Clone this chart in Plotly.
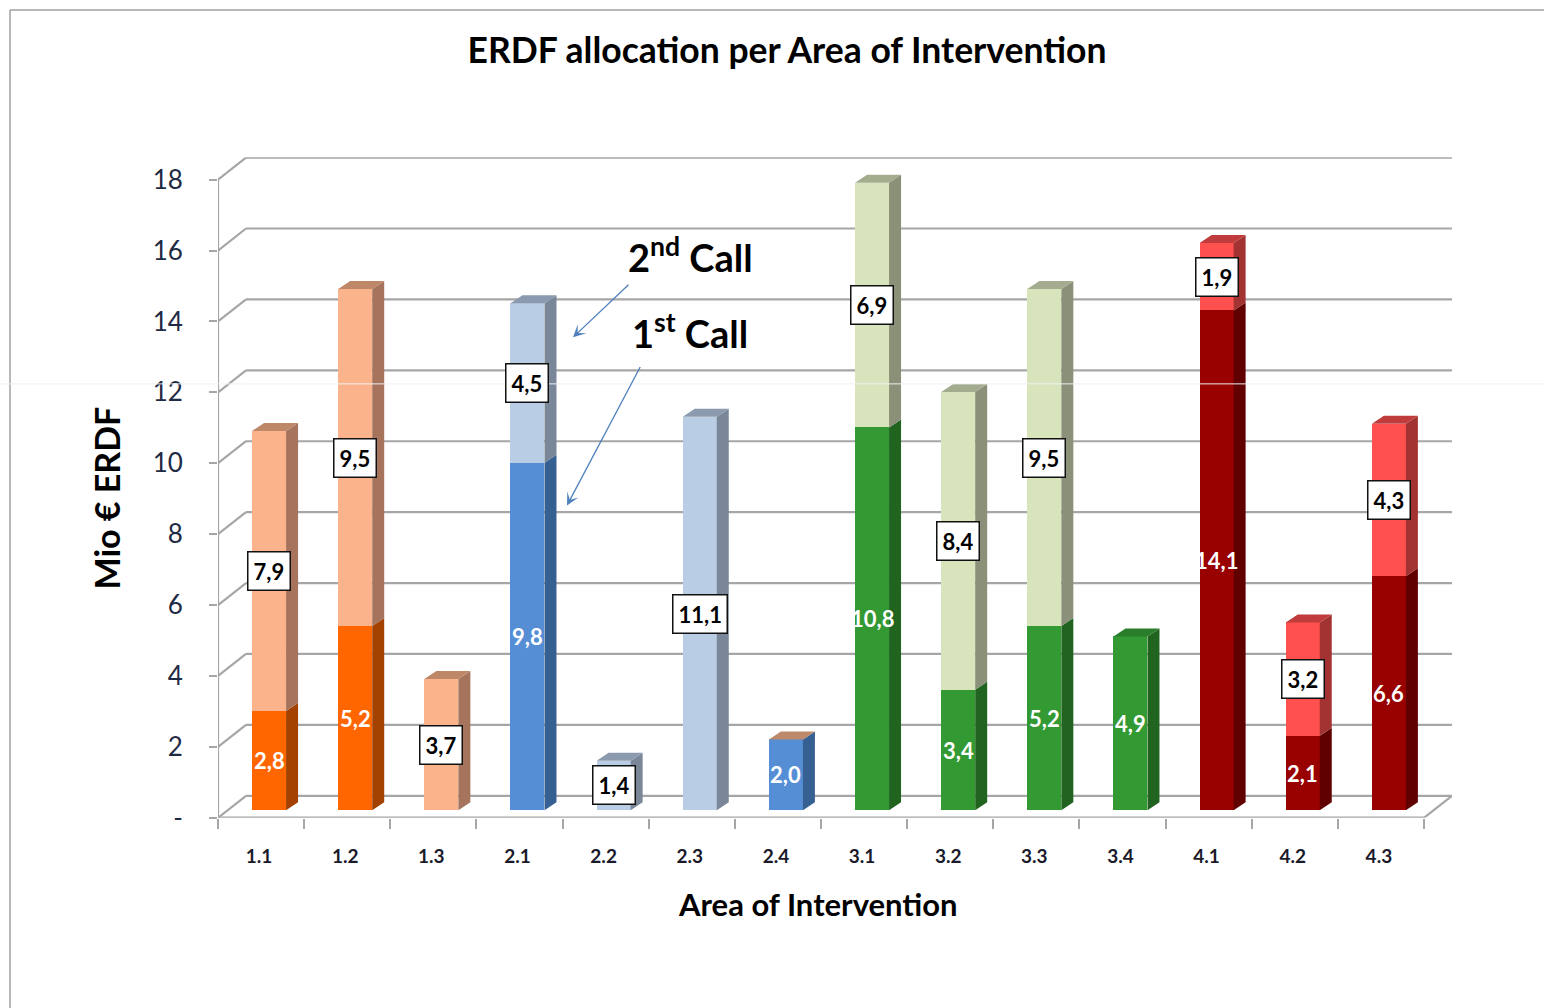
import plotly.graph_objects as go

categories = ["1.1", "1.2", "1.3", "2.1", "2.2", "2.3", "2.4", "3.1", "3.2", "3.3", "3.4", "4.1", "4.2", "4.3"]
first_call = [2.8, 5.2, 0, 9.8, 0, 0, 2.0, 10.8, 3.4, 5.2, 4.9, 14.1, 2.1, 6.6]
second_call = [7.9, 9.5, 3.7, 4.5, 1.4, 11.1, 0, 6.9, 8.4, 9.5, 0, 1.9, 3.2, 4.3]
y_ticks = list(range(0, 20, 2))
y_tick_labels = ["-"] + [str(v) for v in y_ticks[1:]]

W, H = 1544, 1008
LAYOUT_H = 1024             # the page draws the figure 16 px shorter than asked
X0, X1 = 218, 1452          # plot area in page pixels
Y0, Y1 = 817, 157
CAT_PX = 86.14
UNIT_PX = 35.42
BACK = (28 / CAT_PX, 22 / UNIT_PX)      # depth of the floor
BAR_FRONT = (8 / CAT_PX, 7.5 / UNIT_PX)   # where the bar's front stands on the floor
BAR_DEPTH = (12 / CAT_PX, 8 / UNIT_PX)  # depth of a bar
BAR_W = 34 / CAT_PX
GRID = "#a6a6a6"

palette = {
    "1": dict(f="#FF6600", fs="#A34200", ft="#BD5000", s="#FBB38C", ss="#A6745C", st="#BD8768"),
    "2": dict(f="#558ED5", fs="#376092", ft="#BC8A6A", s="#B9CDE5", ss="#7A8799", st="#8B9AAE"),
    "3": dict(f="#339933", fs="#206420", ft="#2A7D2A", s="#D8E4BC", ss="#8A9178", st="#A3AC8F"),
    "4": dict(f="#990000", fs="#600000", ft="#7A0000", s="#FF5050", ss="#A33333", st="#C03C3C"),
}

fig = go.Figure()
xc = [i + 0.5 for i in range(len(categories))]
xbar = [c + BAR_FRONT[0] for c in xc]
colors = [palette[c[0]] for c in categories]


def face(xs, ys, color):
    fig.add_trace(go.Scatter(x=xs, y=ys, mode="lines", fill="toself", fillcolor=color,
                             line=dict(width=0, color=color), hoverinfo="skip", showlegend=False))


# front faces
fig.add_trace(go.Bar(x=xbar, y=first_call, base=[BAR_FRONT[1]] * len(xbar), width=BAR_W,
                     marker=dict(color=[c["f"] for c in colors], line_width=0), name="1st Call", showlegend=False))
fig.add_trace(go.Bar(x=xbar, y=second_call, base=[BAR_FRONT[1] + v for v in first_call], width=BAR_W,
                     marker=dict(color=[c["s"] for c in colors], line_width=0), name="2nd Call", showlegend=False))

# side and top faces, derived from the data
for x, a, b, c in zip(xbar, first_call, second_call, colors):
    r = x + BAR_W / 2
    l = x - BAR_W / 2
    dx, dy = BAR_DEPTH
    base = BAR_FRONT[1]
    if a > 0:
        face([r, r + dx, r + dx, r, r], [base, base + dy, base + a + dy, base + a, base], c["fs"])
    if b > 0:
        face([r, r + dx, r + dx, r, r], [base + a, base + a + dy, base + a + b + dy, base + a + b, base + a], c["ss"])
    top = base + a + b
    face([l, l + dx, r + dx, r, l], [top, top + dy, top + dy, top, top], c["st"] if b > 0 else c["ft"])

# walls and floor
shapes = []


def gline(x0, y0, x1, y1, width=2.2):
    shapes.append(dict(type="line", xref="x", yref="y", x0=x0, y0=y0, x1=x1, y1=y1, layer="below",
                       line=dict(color=GRID, width=width)))


n = len(categories)
for v in y_ticks:
    gline(0, v, BACK[0], v + BACK[1])
    gline(BACK[0], v + BACK[1], n + BACK[0], v + BACK[1])
gline(0, 0, n, 0, 2.6)
gline(0, 0, 0, 18)
gline(n, 0, n + BACK[0], BACK[1])

# page frame and faint scan line


def px(x):
    return x / W


def py(y):
    return 1 - y / H


frame = dict(xref="paper", yref="paper", layer="below")
shapes += [
    dict(type="line", x0=px(10), x1=px(10), y0=py(10), y1=0, line=dict(color="#a0a0a0", width=1.5), **frame),
    dict(type="line", x0=px(10), x1=1, y0=py(10), y1=py(10), line=dict(color="#a0a0a0", width=1.5), **frame),
    dict(type="line", x0=0, x1=1, y0=py(383.5), y1=py(383.5), line=dict(color="#f0f0f0", width=1)),
]
shapes[-1].update(xref="paper", yref="paper", layer="above")

# value labels
annotations = []
FONT = "Lato, 'Open Sans', sans-serif"
for x, a, b in zip(xbar, first_call, second_call):
    if a > 0:
        annotations.append(dict(x=x, y=BAR_FRONT[1] + a / 2, text="<b>%s</b>" % str(a).replace(".", ","), showarrow=False,
                                font=dict(family=FONT, size=22, color="white")))
    if b > 0:
        annotations.append(dict(x=x, y=BAR_FRONT[1] + a + b / 2, text="<b>%s</b>" % str(b).replace(".", ","), showarrow=False,
                                font=dict(family=FONT, size=22, color="black"), bgcolor="white",
                                bordercolor="#111111", borderwidth=1.5, borderpad=5))

# call callouts
for text, cx, cy in [("<b>2<sup>nd</sup> Call</b>", 690, 255), ("<b>1<sup>st</sup> Call</b>", 690, 331)]:
    annotations.append(dict(xref="paper", yref="paper", x=px(cx), y=py(cy), text=text, showarrow=False,
                            xanchor="center", yanchor="middle",
                            font=dict(family=FONT, size=38, color="black")))
for tail, head in [((630, 283), (573, 337)), ((641, 365), (567, 505))]:
    annotations.append(dict(xref="paper", yref="paper", x=px(head[0]), y=py(head[1]),
                            ax=tail[0] - head[0], ay=tail[1] - head[1], text="",
                            showarrow=True, arrowhead=3, arrowsize=1.6, arrowwidth=1.3, arrowcolor="#4F81BD"))

# axis titles
annotations.append(dict(xref="paper", yref="paper", x=px(818), y=py(903), text="<b>Area of Intervention</b>",
                        xanchor="center", yanchor="middle",
                        showarrow=False, font=dict(family=FONT, size=31, color="black")))
annotations.append(dict(xref="paper", yref="paper", x=px(106), y=py(497), text="<b>Mio € ERDF</b>", textangle=-90,
                        xanchor="center", yanchor="middle",
                        showarrow=False, font=dict(family=FONT, size=34, color="black")))

fig.update_layout(
    width=W, height=LAYOUT_H, autosize=False, margin=dict(l=0, r=0, t=0, b=0),
    paper_bgcolor="white", plot_bgcolor="white", bargap=0, barmode="overlay", showlegend=False,
    font=dict(family=FONT, color="black"),
    title=dict(text="<b>ERDF allocation per Area of Intervention</b>", x=787 / W, xanchor="center",
               y=py(50), yanchor="middle", font=dict(family=FONT, size=35.5, color="black")),
    shapes=shapes, annotations=annotations,
    xaxis=dict(domain=[px(X0), px(X1)], range=[0, (X1 - X0) / CAT_PX], tickmode="array",
               tickvals=[c - 2 / CAT_PX for c in xc], ticktext=["<b>%s</b>" % c for c in categories],
               ticks="outside", ticklen=21, tickcolor="rgba(0,0,0,0)", tickfont=dict(size=19, color="#1a1a2a"),
               showgrid=False, zeroline=False, showline=False,
               minor=dict(tickmode="array", tickvals=list(range(n + 1)), ticks="outside", ticklen=10,
                          tickcolor=GRID, tickwidth=2, showgrid=False)),
    yaxis=dict(domain=[py(Y0), py(Y1)], range=[0, (Y0 - Y1) / UNIT_PX], tickmode="array",
               tickvals=y_ticks, ticktext=y_tick_labels, ticks="outside", ticklen=29, tickcolor="rgba(0,0,0,0)",
               tickfont=dict(size=26, color="#1f2a44"), showgrid=False, zeroline=False, showline=False,
               minor=dict(tickmode="array", tickvals=y_ticks, ticks="outside", ticklen=8,
                          tickcolor=GRID, tickwidth=2, showgrid=False)),
)

fig.write_html("out.html", config={"displayModeBar": False}, default_width="1544px", default_height="1024px",
               post_script="document.body.style.margin='0';")
